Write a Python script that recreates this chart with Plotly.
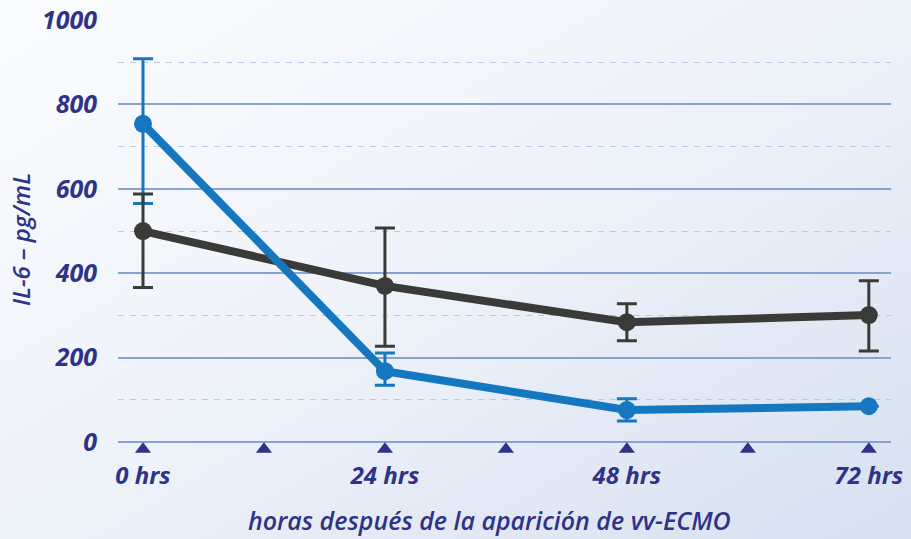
import base64
import plotly.graph_objects as go

hours = [0, 24, 48, 72]
tick_marks = [0, 12, 24, 36, 48, 60, 72]
tick_labels = ["0 hrs", "24 hrs", "48 hrs", "72 hrs"]

black_vals = [500, 370, 284, 301]
black_err_plus = [88, 137, 44, 81]
black_err_minus = [134, 143, 44, 85]

blue_vals = [754, 168, 76, 85]
blue_err_plus = [154, 43, 27, 0]
blue_err_minus = [189, 33, 26, 0]

x_title = "horas después de la aparición de vv-ECMO"
y_title = "IL-6 – pg/mL"

NAVY = "#2e3388"
BLUE = "#1577bf"
BLACK = "#3a3a38"
FONT = "Open Sans"

W, H = 911, 539
ml, mr, mt, mb = 118, 20, 20, 80
pw, ph = W - ml - mr, H - mt - mb

svg = f"""<svg xmlns='http://www.w3.org/2000/svg' width='{W}' height='{H}' preserveAspectRatio='none'>
<defs><linearGradient id='g' x1='0' y1='0' x2='1' y2='1'>
<stop offset='0' stop-color='#fbfcfe'/><stop offset='0.5' stop-color='#eef2f9'/><stop offset='1' stop-color='#d6e0f0'/>
</linearGradient></defs><rect width='{W}' height='{H}' fill='url(#g)'/></svg>"""
src = "data:image/svg+xml;base64," + base64.b64encode(svg.encode()).decode()

fig = go.Figure()

fig.add_trace(go.Scatter(
    x=tick_marks, y=[-17] * len(tick_marks), mode="markers",
    marker=dict(symbol="triangle-up", size=14, color=NAVY),
    cliponaxis=False, showlegend=False, hoverinfo="skip"))

# blue error bars (under black)
fig.add_trace(go.Scatter(
    x=hours, y=blue_vals, mode="markers",
    marker=dict(size=1, color=BLUE),
    error_y=dict(type="data", symmetric=False, array=blue_err_plus, arrayminus=blue_err_minus,
                 color=BLUE, thickness=3, width=10),
    showlegend=False, hoverinfo="skip"))

fig.add_trace(go.Scatter(
    x=hours, y=black_vals, mode="lines+markers",
    line=dict(color=BLACK, width=8),
    marker=dict(size=18, color=BLACK),
    error_y=dict(type="data", symmetric=False, array=black_err_plus, arrayminus=black_err_minus,
                 color=BLACK, thickness=3, width=10),
    showlegend=False))

fig.add_trace(go.Scatter(
    x=hours, y=blue_vals, mode="lines+markers",
    line=dict(color=BLUE, width=8),
    marker=dict(size=18, color=BLUE),
    showlegend=False))

fig.update_layout(
    width=W, height=H,
    margin=dict(l=ml, r=mr, t=mt, b=mb, autoexpand=False),
    paper_bgcolor="#eef2f9",
    plot_bgcolor="rgba(0,0,0,0)",
    images=[dict(source=src, xref="paper", yref="paper",
                 x=-ml / pw, y=1 + mt / ph, sizex=W / pw, sizey=H / ph,
                 xanchor="left", yanchor="top", sizing="stretch", layer="below")],
    font=dict(family=FONT, color=NAVY),
    annotations=[dict(text=x_title, xref="paper", yref="paper",
                      x=(489 - ml) / pw, y=-(520 - (H - mb)) / ph,
                      xanchor="center", yanchor="middle", showarrow=False,
                      font=dict(family=FONT, size=25, color=NAVY, weight=600, style="italic"))],
)

fig.update_xaxes(
    range=[-2.48, 74.2], showgrid=False, zeroline=False, showline=False, automargin=False,
    tickmode="array", tickvals=hours, ticktext=tick_labels,
    tickfont=dict(family=FONT, size=24, color=NAVY, weight="bold", style="italic"),
    ticks="", ticklabelstandoff=0,
)

fig.update_yaxes(
    range=[-40, 1000], dtick=200, tick0=0, automargin=False,
    showgrid=True, gridcolor="#86a3d3", gridwidth=1.5,
    zeroline=False, showline=False,
    minor=dict(dtick=100, tick0=0, showgrid=True, gridcolor="#b9c9e6", gridwidth=1.2, griddash="6px,6px"),
    tickfont=dict(family=FONT, size=25, color=NAVY, weight="bold", style="italic"),
    ticks="", ticklabelstandoff=20,
    title=dict(text=y_title, standoff=4,
               font=dict(family=FONT, size=24, color=NAVY, weight=600, style="italic")),
)

fig.write_html("out.html", config={"displayModeBar": False},
               post_script="document.body.style.margin='0';document.body.style.overflow='hidden';")
